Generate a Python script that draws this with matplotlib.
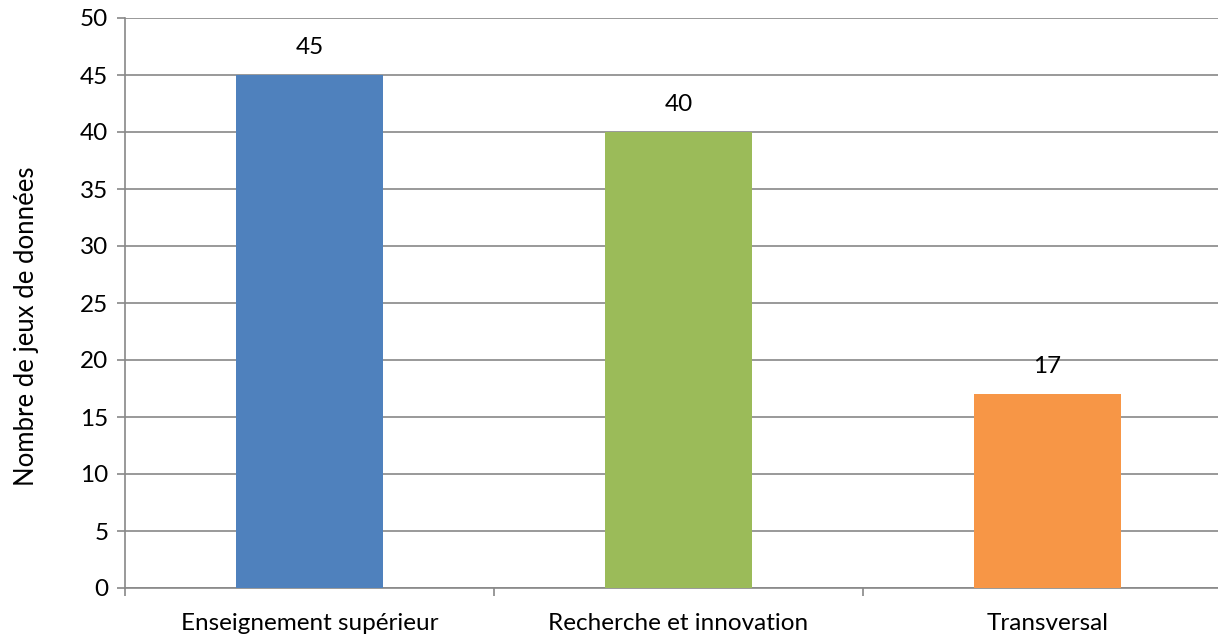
import matplotlib
matplotlib.use('Agg')
import matplotlib.pyplot as plt
import numpy as np

categories = ['Enseignement supérieur', 'Recherche et innovation', 'Transversal']
values = [45, 40, 17]
colors = ['#4F81BD', '#9BBB59', '#F79646']

plt.rcParams['font.family'] = ['Lato', 'DejaVu Sans']

fig = plt.figure(figsize=(12.18, 6.34), dpi=100)
# axes goes slightly past the right edge like in the original
ax = fig.add_axes([125/1218, 1-588/634, 1107/1218, 570/634])

x = np.arange(len(categories))
bars = ax.bar(x, values, width=0.4, color=colors, zorder=3)
for b, v in zip(bars, values):
    ax.text(b.get_x() + b.get_width()/2, v + 2.45, str(v), ha='center', va='center', fontsize=17.5)

ax.set_xlim(-0.5, len(categories) - 0.5)
ax.set_ylim(0, 50)
ax.set_yticks(range(0, 51, 5))
ax.set_xticks(x)
ax.set_xticklabels(categories, fontsize=17.5)
ax.set_xticks(np.arange(-0.5, len(categories), 1), minor=True)
ax.tick_params(axis='x', which='major', length=0, pad=18)
ax.tick_params(axis='x', which='minor', length=6, color='#888888', width=1.2)
ax.tick_params(axis='y', length=6, color='#888888', width=1.2, labelsize=17.5, pad=6)

ax.yaxis.grid(True, color='#888888', linewidth=1.2, zorder=0)
for s in ['top', 'right']:
    ax.spines[s].set_visible(False)
for s in ['left', 'bottom']:
    ax.spines[s].set_color('#888888')
    ax.spines[s].set_linewidth(1.2)

ax.set_ylabel('Nombre de jeux de données', fontsize=18.5)
ax.yaxis.set_label_coords(-0.078, 0.46)

fig.savefig('out.png', dpi=100)
